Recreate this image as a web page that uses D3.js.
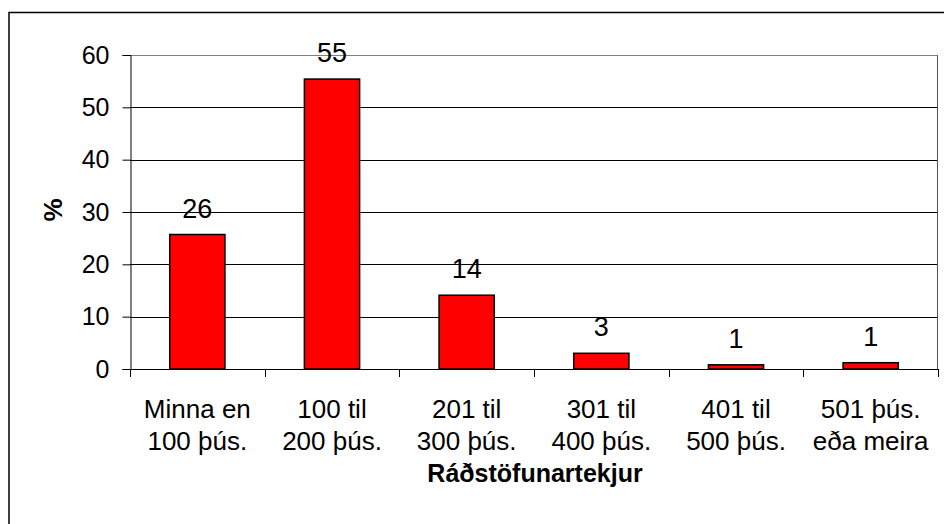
<!DOCTYPE html>
<head>
  <meta charset="utf-8">
  <script src="https://d3js.org/d3.v7.min.js"></script>
  <style>
    body { margin:0; background:#fff; }
    text { font-family: "Liberation Sans", Arial, sans-serif; fill:#000; }
  </style>
</head>

<body>
  <script>
    var width = 944;
    var height = 524;

    var categories = [
      ["Minna en", "100 þús."],
      ["100 til", "200 þús."],
      ["201 til", "300 þús."],
      ["301 til", "400 þús."],
      ["401 til", "500 þús."],
      ["501 þús.", "eða meira"]
    ];
    var values = [25.7, 55.4, 14.1, 3.0, 0.8, 1.2];
    var labels = ["26", "55", "14", "3", "1", "1"];
    var yTicks = [0, 10, 20, 30, 40, 50, 60];

    var plotLeft = 130, plotRight = 938, plotTop = 55, plotBottom = 369;

    var svg = d3.select("body")
      .append("svg")
      .attr("width", width)
      .attr("height", height);

    // outer chart border (right/bottom edges cut off in the original)
    svg.append("rect")
      .attr("x", 9).attr("y", 12.5)
      .attr("width", 1000).attr("height", 600)
      .attr("fill", "none")
      .attr("stroke", "#000")
      .attr("stroke-width", 1.5);

    var ids = d3.range(categories.length);

    var x = d3.scaleBand()
      .domain(ids)
      .range([plotLeft, plotRight])
      .paddingInner(0.59)
      .paddingOuter(0.295);

    var y = d3.scaleLinear()
      .domain([0, 60])
      .range([plotBottom, plotTop]);

    // gridlines
    svg.append("g")
      .selectAll("line")
      .data(yTicks.slice(1))
      .enter().append("line")
      .attr("x1", plotLeft).attr("x2", plotRight)
      .attr("y1", function(d) { return Math.round(y(d)) + 0.5; })
      .attr("y2", function(d) { return Math.round(y(d)) + 0.5; })
      .attr("stroke", function(d) { return d === 60 ? "#808080" : "#000"; })
      .attr("stroke-width", 1);

    // right edge of plot
    svg.append("line")
      .attr("x1", plotRight - 0.5).attr("x2", plotRight - 0.5)
      .attr("y1", y(60)).attr("y2", y(0))
      .attr("stroke", "#555");

    // y axis
    var yAxis = d3.axisLeft(y)
      .tickValues(yTicks)
      .tickSize(8)
      .tickPadding(13);
    var gy = svg.append("g")
      .attr("transform", "translate(" + (plotLeft + 0.5) + ",0)")
      .call(yAxis);
    gy.select(".domain").attr("stroke", "#000");
    gy.selectAll(".tick line").attr("stroke", "#000");
    gy.selectAll("text")
      .style("font-size", "25px")
      .attr("font-family", null)
      .attr("fill", "#000");

    // x axis: ticks on the band edges
    var step = x.step();
    var edges = d3.range(categories.length + 1).map(function(i) { return plotLeft + i * step; });
    svg.append("line")
      .attr("x1", plotLeft).attr("x2", plotRight)
      .attr("y1", plotBottom + 0.5).attr("y2", plotBottom + 0.5)
      .attr("stroke", "#000");
    svg.append("g")
      .selectAll("line")
      .data(edges)
      .enter().append("line")
      .attr("x1", function(d) { return Math.round(d) + 0.5; })
      .attr("x2", function(d) { return Math.round(d) + 0.5; })
      .attr("y1", plotBottom).attr("y2", plotBottom + 8)
      .attr("stroke", "#000");

    // bars
    svg.append("g")
      .selectAll("rect")
      .data(values)
      .enter().append("rect")
      .attr("x", function(d, i) { return x(i); })
      .attr("y", function(d) { return y(d); })
      .attr("width", x.bandwidth())
      .attr("height", function(d) { return y(0) - y(d); })
      .attr("fill", "#ff0000")
      .attr("stroke", "#000")
      .attr("stroke-width", 1.5);

    // value labels
    svg.append("g")
      .selectAll("text")
      .data(values)
      .enter().append("text")
      .attr("x", function(d, i) { return x(i) + x.bandwidth() / 2; })
      .attr("y", function(d) { return y(d) - 17; })
      .attr("text-anchor", "middle")
      .style("font-size", "27px")
      .text(function(d, i) { return labels[i]; });

    // category labels
    var cat = svg.append("g")
      .selectAll("text")
      .data(categories)
      .enter().append("text")
      .attr("text-anchor", "middle")
      .style("font-size", "26px");
    cat.selectAll("tspan")
      .data(function(d, i) { return d.map(function(t) { return { t: t, i: i }; }); })
      .enter().append("tspan")
      .attr("x", function(d) { return x(d.i) + x.bandwidth() / 2; })
      .attr("y", function(d, j) { return 418 + j * 32; })
      .text(function(d) { return d.t; });

    // axis titles
    svg.append("text")
      .attr("x", 535)
      .attr("y", 482)
      .attr("text-anchor", "middle")
      .style("font-size", "25px")
      .style("font-weight", "bold")
      .text("Ráðstöfunartekjur");

    svg.append("text")
      .attr("transform", "translate(62,210) rotate(-90)")
      .attr("text-anchor", "middle")
      .style("font-size", "26px")
      .style("font-weight", "bold")
      .text("%");
  </script>
</body>
